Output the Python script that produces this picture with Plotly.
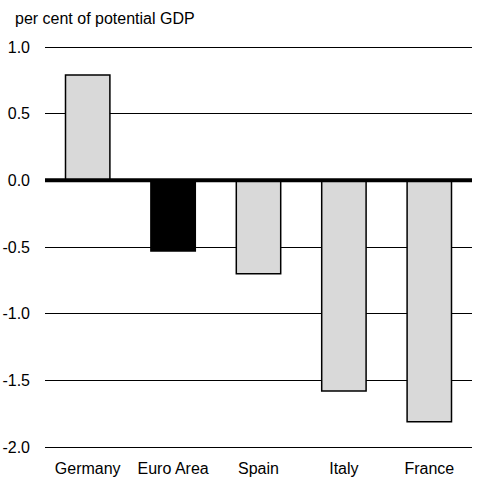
import plotly.graph_objects as go

categories = ["Germany", "Euro Area", "Spain", "Italy", "France"]
values = [0.79, -0.53, -0.70, -1.58, -1.81]
colors = ["#d9d9d9", "#000000", "#d9d9d9", "#d9d9d9", "#d9d9d9"]
tick_vals = [1.0, 0.5, 0.0, -0.5, -1.0, -1.5, -2.0]
tick_text = ["1.0", "0.5", "0.0", "-0.5", "-1.0", "-1.5", "-2.0"]

fig = go.Figure()
fig.add_trace(go.Bar(
    x=categories, y=values,
    marker=dict(color=colors, line=dict(color="#000000", width=1.5)),
    width=0.52,
))

font = dict(family="Liberation Sans, Arial, sans-serif", size=16, color="#000000")
fig.update_layout(
    width=485, height=485,
    margin=dict(l=45, r=13, t=43, b=34),
    plot_bgcolor="white", paper_bgcolor="white",
    font=font,
    showlegend=False,
    xaxis=dict(showgrid=False, showline=False, ticks="", tickfont=font,
               automargin=False, ticklabelstandoff=6),
    yaxis=dict(range=[-2.03, 1.03], tickvals=tick_vals, ticktext=tick_text,
               showgrid=True, gridcolor="#000000", gridwidth=1.2,
               zeroline=False, showline=False, ticks="", tickfont=font,
               ticklabelstandoff=14, automargin=False),
    shapes=[dict(type="line", xref="paper", yref="y", x0=0, x1=1, y0=0, y1=0,
                 line=dict(color="#000000", width=4), layer="above")],
    annotations=[dict(text="per cent of potential GDP", xref="paper", yref="paper",
                      x=-0.075, y=1.0, yshift=35, xanchor="left", yanchor="top",
                      showarrow=False, font=font)],
)
fig.write_html("out.html", config={"displayModeBar": False},
               post_script="document.body.style.margin='0';document.body.style.overflow='hidden';")
